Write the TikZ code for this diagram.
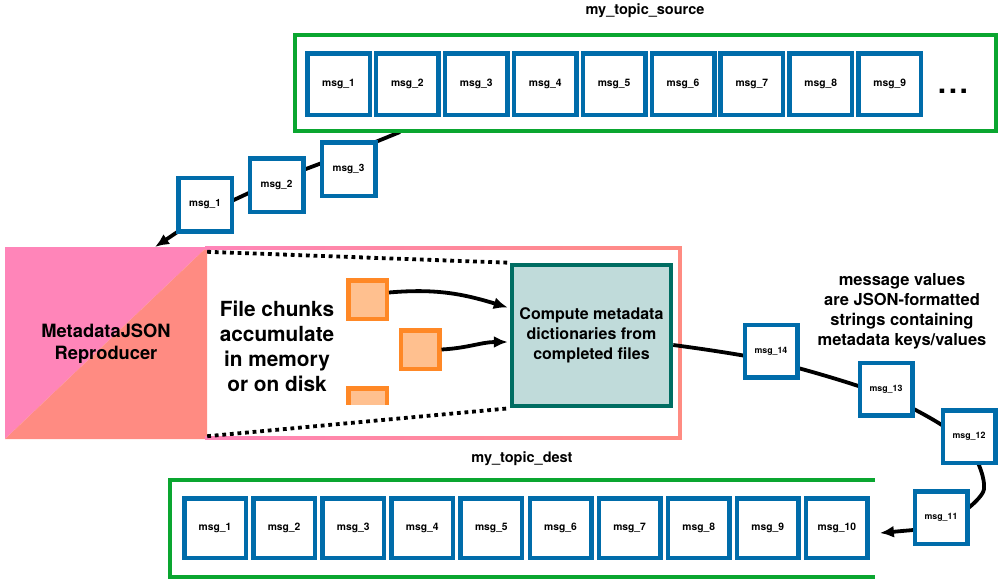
\documentclass[tikz,border=0pt]{standalone}
\usepackage{fontspec}
\setmainfont{TeX Gyre Heros}
\usetikzlibrary{arrows.meta,calc}
\definecolor{kgreen}{RGB}{10,166,48}
\definecolor{kblue}{RGB}{0,108,170}
\definecolor{kpink}{RGB}{255,133,185}
\definecolor{ksalmon}{RGB}{255,139,130}
\definecolor{korange}{RGB}{255,136,38}
\definecolor{korangefill}{RGB}{255,192,143}
\definecolor{ktealline}{RGB}{0,109,98}
\definecolor{ktealfill}{RGB}{192,219,218}
\pgfdeclarelayer{bg}
\pgfdeclarelayer{mid}
\pgfsetlayers{bg,mid,main}
\begin{document}
\begin{tikzpicture}[x=1pt,y=-1pt,
  msg/.style={draw=kblue, line width=4.5pt, fill=white, inner sep=0pt, font=\bfseries\fontsize{10.3}{12}\selectfont},
  toprow/.style={msg, minimum width=62.5pt, minimum height=61.5pt},
  botrow/.style={msg, minimum width=61.5pt, minimum height=59.5pt},
  moving/.style={msg, minimum size=53.5pt, font=\bfseries\fontsize{10}{12}\selectfont},
  movsmall/.style={msg, minimum size=52.5pt, font=\bfseries\fontsize{8.8}{10}\selectfont},
  topic/.style={draw=kgreen, line width=4.2pt},
  chunk/.style={draw=korange, fill=korangefill, line width=4.5pt, minimum size=38.5pt, inner sep=0pt},
  flow/.style={line width=3.8pt, draw=black},
  tip/.style={-{Latex[length=14pt,width=12pt]}},
  dotline/.style={line width=3.8pt, dash pattern=on 3.8pt off 3.8pt},
  title/.style={font=\bfseries\fontsize{14.5}{17}\selectfont},
  bigtext/.style={align=center, inner sep=0pt}
]
\useasboundingbox (0,0) rectangle (1005,584);

% ---------- source topic ----------
\node[title] (srctitle) at (645,11) {my\_topic\_source};
\node[topic, minimum width=701pt, minimum height=96pt, inner sep=0pt] (src) at (645.5,83) {};
\foreach \i in {1,...,9}
  \node[toprow] (s\i) at ({338.5+68.9*(\i-1)},84) {msg\_\i};
\node[font=\bfseries\fontsize{30}{30}\selectfont, inner sep=0pt] (dots) at (953,91) {.\kern2.5pt.\kern2.5pt.};

% ---------- messages in transit (top) ----------
\node[moving] (m3) at (348.5,169) {msg\_3};
\node[moving] (m2) at (276.5,185) {msg\_2};
\node[moving] (m1) at (205,204.5) {msg\_1};

% ---------- reproducer ----------
\begin{pgfonlayer}{bg}
  \fill[kpink] (5,247) -- (207,247) -- (5,439) -- cycle;
  \fill[ksalmon] (207,247) -- (207,439) -- (5,439) -- cycle;
  \shade[left color=kpink, right color=ksalmon] (205,246.3) rectangle (681.7,249.7);
  \shade[left color=kpink, right color=ksalmon] (205,436.3) rectangle (681.7,439.7);
  \fill[ksalmon] (678.3,246.3) rectangle (681.7,439.7);
\end{pgfonlayer}
\node[minimum width=202pt, minimum height=190pt, inner sep=0pt, align=center,
      font=\bfseries\fontsize{18.3}{22}\selectfont] (repro) at (106,344) {MetadataJSON\\Reproducer};
\node[bigtext, font=\bfseries\fontsize{20.8}{25}\selectfont] (chunkstext) at (277,346) {File chunks\\accumulate\\in memory\\or on disk};

\node[draw=ktealline, fill=ktealfill, line width=4.5pt, minimum width=159pt, minimum height=141pt,
      inner sep=0pt, align=center, font=\bfseries\fontsize{16}{20.3}\selectfont] (teal) at (591.5,335.5)
      {Compute metadata\\dictionaries from\\completed files};

\node[chunk] (c1) at (367.5,299.5) {};
\node[chunk] (c2) at (420,349.5) {};
\begin{scope}
  \clip (330,380) rectangle (400,404);
  \node[chunk] (c3) at (367.5,407.5) {};
\end{scope}

\draw[dotline] ($(repro.north east)+(0,3)$) -- (teal.north west);
\draw[dotline] ($(repro.south east)+(0,-3)$) -- (teal.south west);

\draw[flow,tip] ($(c1.east)+(0,-7)$) to[out=5,in=163] ($(teal.west)+(-2,-28)$);
\draw[flow,tip] (c2.east) to[out=3,in=180] ($(teal.west)+(-2,6.5)$);

% ---------- messages in transit (right) ----------
\node[movsmall] (m14) at (771,351) {msg\_14};
\node[movsmall] (m13) at (886,389) {msg\_13};
\node[movsmall] (m12) at (969,436.5) {msg\_12};
\node[movsmall] (m11) at (941,517.5) {msg\_11};

\node[bigtext, font=\bfseries\fontsize{16.5}{20}\selectfont] (note) at (902,311)
  {message values\\are JSON-formatted\\strings containing\\metadata keys/values};

% ---------- destination topic ----------
\node[title] (dsttitle) at (522,459) {my\_topic\_dest};
\begin{pgfonlayer}{bg}
  \draw[topic] (875,480) -- (170,480) -- (170,577) -- (875,577);
\end{pgfonlayer}
\foreach \i in {1,...,10}
  \node[botrow] (b\i) at ({215+69.1*(\i-1)},528) {msg\_\i};

% ---------- connectors ----------
\coordinate (s0) at (400,132);
\coordinate (tipA) at (155,247);
\coordinate (o0) at ($(teal.east)+(0,9.5)$);
\coordinate (o1) at ($(m14.center)+(0,10)$);
\coordinate (o2) at ($(m13.center)+(0,7)$);
\coordinate (o3) at ($(m12.center)+(-6,4)$);
\coordinate (o4) at (984,489);
\coordinate (o5) at ($(m11.center)+(12,2)$);
\coordinate (tipB) at ($(b10.east)+(10,5)$);
\begin{pgfonlayer}{mid}
  \draw[flow,tip] (s0) -- ($(m3.center)+(0,-16)$) -- ($(m2.center)+(0,-5)$) -- ($(m1.center)+(0,9)$) -- (tipA);
  \draw[flow] plot[smooth, tension=0.5] coordinates {(o0) (o1) (o2) (o3) (o4) (o5)};
  \draw[flow,tip] ($(m11.center)+(0,10)$) -- (tipB);
\end{pgfonlayer}
\end{tikzpicture}
\end{document}
